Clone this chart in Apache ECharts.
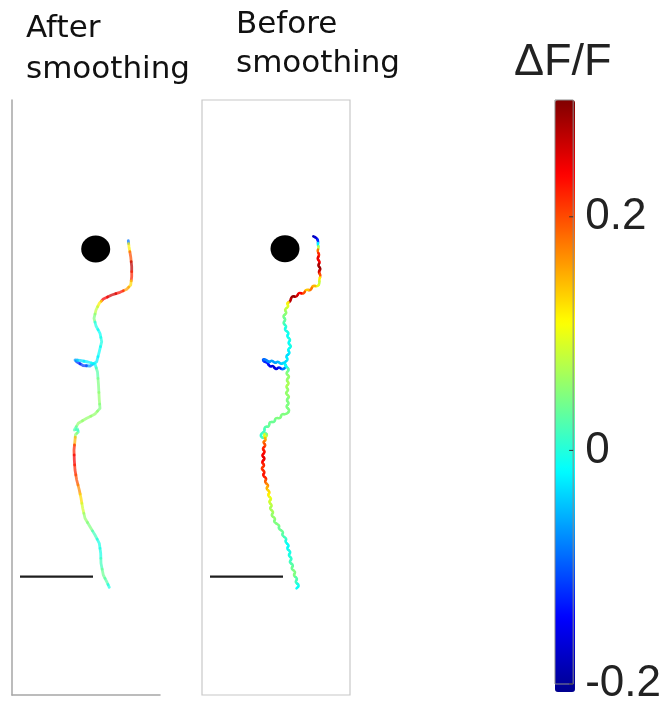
<!DOCTYPE html>
<html>
<head>
<meta charset="utf-8">
<script src="https://cdn.jsdelivr.net/npm/echarts@6/dist/echarts.min.js"></script>
<style>html,body{margin:0;padding:0;background:#fff}#c{width:664px;height:706px}</style>
</head>
<body>
<div id="c"></div>
<script>
// ---- data (panel coordinates, y downward) ----
const smoothX = [116.3,117,118.7,119.7,119.7,118.7,114.7,108,99.7,91.3,87.3,84,82,84,88,89.7,87.3,84.7,78,71,65,63,68,76,83,85.5,86.5,87.3,88,83,74.7,66.3,62.3,65.5,66.3,63.5,63,62,62.3,63,64.7,67.3,69,70.7,73,78,83,87.3,88.7,89,91.3,94.7,97.3];
const smoothY = [140.7,146.7,156.7,166.7,176.7,185,189.3,192.3,195,199,203.3,210,218.3,226,233.3,241.7,251.7,261.7,266,265.5,262,260,260.5,262,264,272,285,300,308.3,314,318.3,323.3,330,329,332,334.5,340,350,360,370,380,390,398.3,408.3,418.3,426.7,435,443.3,453.3,463.3,475,481.7,487.3];
const smoothDFF = [-0.08,0.12,0.2,0.27,0.22,0.13,0.16,0.23,0.26,0.24,0.12,0.08,0.05,0.0,-0.01,0.0,-0.01,-0.02,-0.06,-0.11,-0.12,-0.06,-0.03,-0.02,-0.01,0.03,0.05,0.06,0.05,0.06,0.06,0.06,0.03,0.02,0.02,0.06,0.15,0.22,0.24,0.22,0.2,0.17,0.13,0.09,0.06,0.05,0.02,0.0,0.0,0.02,0.04,0.03,0.0];

const rawX = [111.3,114.7,116.3,115.7,117,115,117.7,115,118.3,115.7,119,116.3,119,117,117.7,
  116,110.5,109,103.5,102,96.5,95,89.5,88.5,84.5,
  87,82.2,85.2,80.4,84.1,80.6,85,82,87.4,84.4,89,85.6,90,85.2,88.5,83.4,86.5,81.5,85,
  80,77,74,71,68,65,62,60.5,64,67,70,73,76,79,82,84.5,
  87.5,83.5,88,84,87.5,83.5,87,83,88,84,87.5,83.5,88,84.7,79.3,78.7,73.3,72.7,67.3,67.2,62.3,62.7,
  59.5,58.5,62,65.5,63.5,61.5,64.5,
  60.5,64.2,60,63.6,59.3,63.5,59.3,63,58.8,63.3,60.3,65,62.3,67,63.7,68.4,65.3,70,66.3,70.6,67.2,72,68.8,73.9,71.2,77.8,76.2,81.8,79.5,85,82.8,87.5,84.4,89.2,86,90.4,86.8,91.8,88.8,94,91.1,95.9,92.8,97.6,94.5];
const rawY = [136.3,138,141.3,144.7,148,151.3,154.7,158.7,162,165.3,168.7,172,175.3,179.7,183,
  186.7,185.3,190.7,189.3,194.2,192.3,197.2,195.8,201.7,203,
  206.3,209.6,213,216.3,219.6,223,226.3,229.6,233,236.3,239.6,243,246.3,249.6,253,256.3,259.6,263,266.3,
  270,266.5,270,265.5,267,262,262,259,259.5,262.5,260,263.5,261,264.5,262,267,
  270,273.3,276.6,280,283.3,286.6,290,293.3,296.6,300,303.3,306.6,310,314.5,313.8,318.7,317.5,322.5,321.5,327,326.5,332,
  333,336.5,338.5,335.5,332.5,336,340,
  342,345.3,348.6,352,355.3,358.6,362,365.3,368.6,372,375.3,378.6,382,385.3,388.6,392,395.3,398.6,402,405.3,408.6,412,415.3,418.6,422,425.3,428.6,432,435.3,438.6,442,445.3,448.6,452,455.3,458.6,462,465.3,468.6,472,475.3,478.6,482,485.3,488.3];
const rawDFF = [-0.18,-0.16,-0.12,-0.02,0.08,0.18,0.22,0.25,0.24,0.28,0.29,0.26,0.2,0.12,0.08,
  0.1,0.15,0.18,0.14,0.2,0.24,0.26,0.29,0.27,0.12,
  0.1,0.08,0.06,0.05,0.04,0.03,0.01,0.0,0.0,-0.01,0.0,-0.01,0.0,-0.01,-0.02,-0.03,-0.02,-0.03,-0.02,
  -0.08,-0.12,-0.15,-0.16,-0.15,-0.13,-0.12,-0.1,-0.08,-0.07,-0.06,-0.06,-0.05,-0.04,-0.03,-0.01,
  0.03,0.05,0.06,0.06,0.07,0.07,0.06,0.06,0.06,0.05,0.05,0.05,0.05,0.05,0.05,0.05,0.05,0.04,0.04,0.04,0.03,0.02,
  0.02,0.01,0.02,0.08,0.04,0.1,0.15,
  0.18,0.2,0.22,0.23,0.24,0.25,0.24,0.22,0.21,0.22,0.23,0.22,0.19,0.17,0.15,0.13,0.12,0.1,0.09,0.08,0.07,0.07,0.06,0.06,0.05,0.05,0.04,0.04,0.03,0.02,0.0,-0.01,-0.01,0.0,0.0,0.01,0.02,0.03,0.04,0.05,0.05,0.03,0.02,0.0,-0.01];

const dotX = [83.7, 83];
const dotY = [149, 148.7];
const scaleBarX = [8, 81];
const scaleBarY = [476.7, 476.7];

const panelTitles = ['After\nsmoothing', 'Before\nsmoothing'];
const colorbarTitle = 'ΔF/F';
const colorbarTickValues = [-0.2, 0, 0.2];
const colorbarTickLabels = ['-0.2', '0', '0.2'];
const colorbarMin = -0.2, colorbarMax = 0.3;

const jet = ['#00008F','#0000FF','#0080FF','#00FFFF','#80FF80','#FFFF00','#FF8000','#FF0000','#800000'];

// ---- build ----
function trackData(xs, ys, vs) { return xs.map((x, i) => [x, ys[i], vs[i]]); }
function makeRender(xs, ys, curved, width, opacity) {
  return function (params, api) {
    const i = params.dataIndex, n = xs.length;
    const p = api.coord([xs[i], ys[i]]);
    const prev = i > 0 ? api.coord([xs[i-1], ys[i-1]]) : p;
    const next = i < n - 1 ? api.coord([xs[i+1], ys[i+1]]) : p;
    const a = [(prev[0] + p[0]) / 2, (prev[1] + p[1]) / 2];
    const b = [(next[0] + p[0]) / 2, (next[1] + p[1]) / 2];
    const color = api.visual('color');
    const style = { stroke: color, fill: 'none', lineWidth: width, lineCap: 'round', lineJoin: 'round', opacity: opacity };
    if (curved) {
      return { type: 'bezierCurve', shape: { x1: a[0], y1: a[1], x2: b[0], y2: b[1], cpx1: p[0], cpy1: p[1] }, style: style };
    }
    return { type: 'polyline', shape: { points: [a, p, b] }, style: style };
  };
}
function renderColorbarTick(params, api) {
  const p = api.coord([1, colorbarTickValues[params.dataIndex]]);
  return { type: 'line', shape: { x1: p[0] - 4, y1: p[1], x2: p[0], y2: p[1] }, style: { stroke: '#333', lineWidth: 1 } };
}

const W = 148, H = 595;
const panelAxisX = (gi, showLine) => ({
  gridIndex: gi, type: 'value', min: 0, max: W, position: 'bottom',
  axisLine: { show: showLine, onZero: false, lineStyle: { color: '#a6a6a6', width: 1.5 } },
  axisTick: { show: false }, axisLabel: { show: false }, splitLine: { show: false }
});
const panelAxisY = (gi, showLine) => ({
  gridIndex: gi, type: 'value', min: 0, max: H, inverse: true, position: 'left',
  axisLine: { show: showLine, onZero: false, lineStyle: { color: '#a6a6a6', width: 1.5 } },
  axisTick: { show: false }, axisLabel: { show: false }, splitLine: { show: false }
});

const chart = echarts.init(document.getElementById('c'), null, { renderer: 'canvas' });
const titleFont = { fontFamily: 'DejaVu Sans', fontSize: 31, fontWeight: 'normal', color: '#111', lineHeight: 41 };
chart.setOption({
  animation: false,
  backgroundColor: '#fff',
  title: [
    { text: panelTitles[0], left: 26, top: 8, padding: 0, textStyle: titleFont },
    { text: panelTitles[1], left: 236, top: 5, padding: 0, textStyle: Object.assign({}, titleFont, { lineHeight: 39 }) },
    { text: colorbarTitle, left: 514, top: 40, padding: 0, textStyle: { fontFamily: 'Liberation Sans', fontSize: 45, fontWeight: 'normal', color: '#222' } }
  ],
  grid: [
    { left: 12, top: 100, width: W, height: H, show: false },
    { left: 202, top: 100, width: W, height: H, show: true, borderColor: '#c8c8c8', borderWidth: 1.2, backgroundColor: 'transparent' },
    { left: 555, top: 100, width: 20, height: 592, show: true, borderColor: '#8a8a8a', borderWidth: 1, backgroundColor: 'transparent', z: 10 }
  ],
  xAxis: [
    panelAxisX(0, true),
    panelAxisX(1, false),
    { gridIndex: 2, type: 'value', min: 0, max: 1, show: false }
  ],
  yAxis: [
    panelAxisY(0, true),
    panelAxisY(1, false),
    { gridIndex: 2, type: 'value', min: colorbarMin, max: colorbarMax, position: 'right', z: 10,
      axisLine: { show: false },
      axisTick: { show: false },
      axisLabel: { show: true, customValues: colorbarTickValues, margin: 12, fontFamily: 'Liberation Sans', fontSize: 44, color: '#222',
        formatter: v => colorbarTickLabels[colorbarTickValues.findIndex(t => Math.abs(t - v) < 1e-9)] },
      splitLine: { show: false } }
  ],
  visualMap: {
    type: 'continuous', min: colorbarMin, max: colorbarMax, dimension: 2, seriesIndex: [0, 1],
    orient: 'vertical', left: 555, top: 100, itemWidth: 20, itemHeight: 592, padding: 0,
    calculable: false, hoverLink: false, inRange: { color: jet }, textStyle: { color: 'transparent' }
  },
  series: [
    { type: 'custom', xAxisIndex: 0, yAxisIndex: 0, data: trackData(smoothX, smoothY, smoothDFF),
      encode: { x: 0, y: 1 }, renderItem: makeRender(smoothX, smoothY, false, 2.8, 0.72), z: 5, silent: true },
    { type: 'custom', xAxisIndex: 1, yAxisIndex: 1, data: trackData(rawX, rawY, rawDFF),
      encode: { x: 0, y: 1 }, renderItem: makeRender(rawX, rawY, true, 2.5, 1), z: 5, silent: true },
    { type: 'scatter', xAxisIndex: 0, yAxisIndex: 0, data: [[dotX[0], dotY[0]]], symbolSize: [29, 27], itemStyle: { color: '#000', opacity: 1 }, silent: true },
    { type: 'scatter', xAxisIndex: 1, yAxisIndex: 1, data: [[dotX[1], dotY[1]]], symbolSize: [29, 27], itemStyle: { color: '#000', opacity: 1 }, silent: true },
    { type: 'line', xAxisIndex: 0, yAxisIndex: 0, data: scaleBarX.map((x, i) => [x, scaleBarY[i]]), symbol: 'none', lineStyle: { color: '#1e1e1e', width: 2.2 }, silent: true },
    { type: 'line', xAxisIndex: 1, yAxisIndex: 1, data: scaleBarX.map((x, i) => [x, scaleBarY[i]]), symbol: 'none', lineStyle: { color: '#1e1e1e', width: 2.2 }, silent: true },
    { type: 'custom', xAxisIndex: 2, yAxisIndex: 2, data: colorbarTickValues.map(v => [1, v]), encode: { x: 0, y: 1 },
      renderItem: renderColorbarTick, z: 20, silent: true }
  ]
});
</script>
</body>
</html>
